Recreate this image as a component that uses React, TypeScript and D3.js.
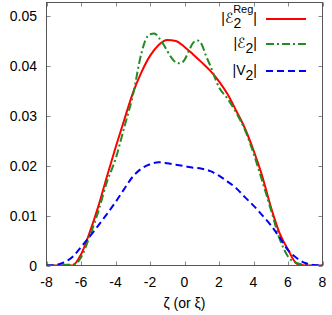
import React from 'react';
import * as d3 from 'd3';

const width = 332;
const height = 315;
const margin = { top: 2.5, right: 9.5, bottom: 49.5, left: 46.5 };

// zeta grid
const zeta = [-8, -7.5, -7, -6.5, -6, -5.5, -5, -4.5, -4, -3.5, -3, -2.5, -2, -1.5, -1, -0.5,
  0, 0.5, 1, 1.5, 2, 2.5, 3, 3.5, 4, 4.5, 5, 5.5, 6, 6.5, 7, 7.5, 8];

const e2Reg = [0, 0, 0, 0, 0.0022, 0.0066, 0.0118, 0.0178, 0.0236, 0.0291, 0.0345, 0.0387, 0.042, 0.0442, 0.0452, 0.045,
  0.0438, 0.0423, 0.0407, 0.039, 0.0369, 0.0343, 0.031, 0.0275, 0.0231, 0.018, 0.0118, 0.0066, 0.0032, 0.0004, 0, 0, 0];

// green dash-dot has a bumpy top, so it gets a finer grid
const zetaE2 = [-8, -7.5, -7, -6.5, -6.25, -6, -5.5, -5, -4.5, -4, -3.5, -3, -2.5, -2.25, -2, -1.75, -1.5, -1.25, -1, -0.75, -0.5,
  -0.25, 0, 0.25, 0.5, 0.75, 1, 1.25, 1.5, 2, 2.5, 3, 3.5, 4, 4.5, 5, 5.5, 6, 6.5, 7, 7.5, 8];
const e2 = [0, 0, 0.0001, 0.0002, 0.0005, 0.0016, 0.0058, 0.0108, 0.0167, 0.0213, 0.0276, 0.034, 0.0425, 0.0453, 0.0463, 0.0465, 0.0457, 0.0445, 0.043, 0.0416, 0.0407,
  0.0405, 0.0412, 0.043, 0.0446, 0.0451, 0.0443, 0.042, 0.04, 0.0357, 0.0334, 0.0306, 0.0272, 0.0225, 0.017, 0.0113, 0.0055, 0.0018, 0.0005, 0.0001, 0, 0];

const v2 = [0, 0.0001, 0.0006, 0.0017, 0.0037, 0.0058, 0.008, 0.0103, 0.0127, 0.0153, 0.0178, 0.0194, 0.0203, 0.0207, 0.0205, 0.0202,
  0.0199, 0.0196, 0.0194, 0.0189, 0.018, 0.0168, 0.0155, 0.0137, 0.012, 0.0101, 0.0081, 0.0057, 0.0031, 0.0015, 0.0005, 0.0001, 0];

const xTicks = [-8, -6, -4, -2, 0, 2, 4, 6, 8];
const yTicks = [0, 0.01, 0.02, 0.03, 0.04, 0.05];

const font = "'Liberation Sans', Arial, Helvetica, sans-serif";
const scriptFont = "'DejaVu Sans', 'Noto Sans', sans-serif";

export default function App() {
  const x = d3.scaleLinear().domain([-8, 8]).range([margin.left, width - margin.right]);
  const y = d3.scaleLinear().domain([0, 0.0527]).range([height - margin.bottom, margin.top]);

  const line = (xs: number[], ys: number[]) =>
    d3.line<number>()
      .x((d, i) => x(xs[i]))
      .y(d => y(d))
      .curve(d3.curveMonotoneX)(ys) || '';

  const series = [
    { xs: zeta, ys: e2Reg, color: '#ff0000', dash: undefined, label: 'reg' },
    { xs: zetaE2, ys: e2, color: '#228b22', dash: '8,3,2,3', label: 'e2' },
    { xs: zeta, ys: v2, color: '#0000ff', dash: '7,4', label: 'v2' },
  ];

  const x0 = margin.left, x1 = width - margin.right;
  const y0 = height - margin.bottom, y1 = margin.top;
  const tickLen = 4;

  const legendY = [19, 44, 71];
  const legendTextX = 257;

  return (
    <svg width={width} height={height} style={{ position: 'absolute', left: 0, top: 0, background: '#fff' }}
      fontFamily={font}>
      <defs>
        <clipPath id="plot">
          <rect x={x0} y={y1} width={x1 - x0} height={y0 - y1} />
        </clipPath>
      </defs>

      {/* ticks, mirrored on all four sides */}
      <g stroke="#888" strokeWidth={1}>
        {xTicks.map(t => (
          <g key={'x' + t}>
            <line x1={Math.round(x(t)) + 0.5} x2={Math.round(x(t)) + 0.5} y1={y0} y2={y0 - tickLen} />
            <line x1={Math.round(x(t)) + 0.5} x2={Math.round(x(t)) + 0.5} y1={y1} y2={y1 + tickLen} />
          </g>
        ))}
        {yTicks.map(t => (
          <g key={'y' + t}>
            <line x1={x0} x2={x0 + tickLen} y1={Math.round(y(t)) + 0.5} y2={Math.round(y(t)) + 0.5} />
            <line x1={x1} x2={x1 - tickLen} y1={Math.round(y(t)) + 0.5} y2={Math.round(y(t)) + 0.5} />
          </g>
        ))}
      </g>

      <g clipPath="url(#plot)">
        {series.map(s => (
          <path key={s.label} d={line(s.xs, s.ys)} fill="none" stroke={s.color} strokeWidth={2}
            strokeDasharray={s.dash} />
        ))}
      </g>

      <rect x={x0} y={y1} width={x1 - x0} height={y0 - y1} fill="none" stroke="#555" strokeWidth={1} />

      {/* tick labels */}
      <g fontSize={14} fill="#000">
        {xTicks.map(t => (
          <text key={'xl' + t} x={x(t)} y={287} textAnchor="middle">{t}</text>
        ))}
        {yTicks.map(t => (
          <text key={'yl' + t} x={37} y={y(t) + 5} textAnchor="end">{t === 0 ? '0' : t.toFixed(2)}</text>
        ))}
        <text x={(x0 + x1) / 2} y={308} textAnchor="middle">ζ (or ξ)</text>
      </g>

      {/* legend */}
      <g fontSize={14} fill="#000">
        <text x={legendTextX} y={legendY[0] + 4} textAnchor="end">
          |<tspan fontFamily={scriptFont} fontStyle="italic">ℰ</tspan><tspan dy={5}>2</tspan><tspan dx={-8} dy={-15} fontSize={11}>Reg</tspan><tspan dy={10}>|</tspan>
        </text>
        <text x={legendTextX} y={legendY[1] + 4} textAnchor="end">
          |<tspan fontFamily={scriptFont} fontStyle="italic">ℰ</tspan><tspan dy={5}>2</tspan><tspan dy={-5}>|</tspan>
        </text>
        <text x={legendTextX} y={legendY[2] + 4} textAnchor="end">
          |V<tspan dy={5}>2</tspan><tspan dy={-5}>|</tspan>
        </text>
        {series.map((s, i) => (
          <line key={'lg' + s.label} x1={266} x2={306} y1={legendY[i]} y2={legendY[i]} stroke={s.color}
            strokeWidth={2} strokeDasharray={s.dash} />
        ))}
      </g>
    </svg>
  );
}
